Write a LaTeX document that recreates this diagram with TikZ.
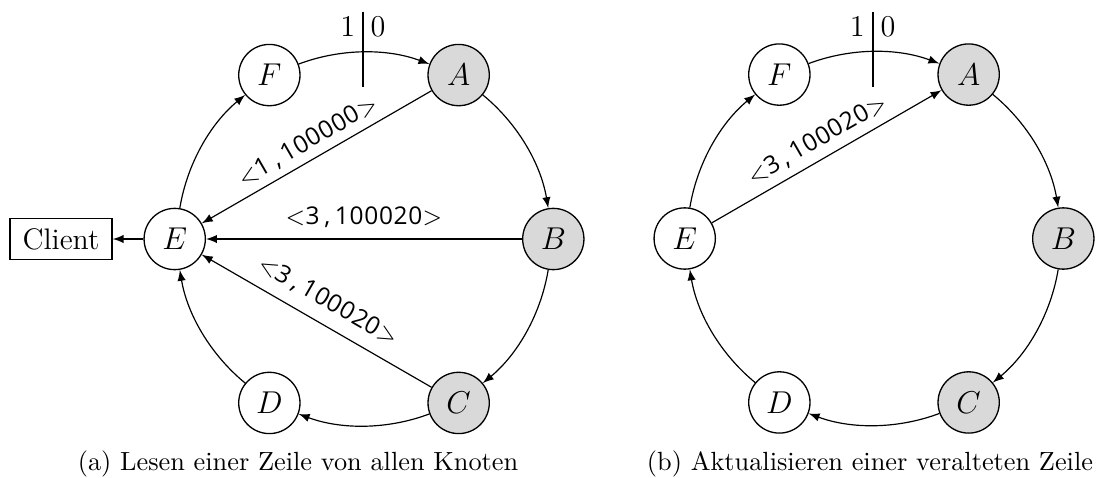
\RequirePackage{fix-cm}
\documentclass[tikz,border=0pt]{standalone}
\usepackage{fontspec}
\newfontfamily\lblfont{Open Sans}
\makeatletter
\def\monoit#1{\ifx#1\relax\else\makebox[0.6em]{#1}\expandafter\monoit\fi}
\makeatother
\newcommand\msgtext[1]{$<$\monoit #1\relax$>$}
\begin{document}
\begin{tikzpicture}[x=0.3802pt,y=0.3802pt,
  ring/.style={circle,draw,line width=0.5pt,minimum size=23.3pt,inner sep=0pt,font=\fontsize{12}{14}\selectfont},
  hot/.style={ring,fill=black!15},
  cyc/.style={-latex,line width=0.45pt,bend left=20.6,looseness=0.88},
  msg/.style={-latex,line width=0.45pt},
  lbl/.style={sloped,inner sep=2.5pt,font=\fontsize{9.3}{11}\selectfont\lblfont},
  captext/.style={anchor=base,font=\fontsize{10}{12}\selectfont},
  bit/.style={inner sep=0pt,font=\fontsize{11.5}{13}\selectfont},
  box/.style={draw,line width=0.5pt,minimum width=38.8pt,minimum height=15.8pt,inner sep=0pt,font=\fontsize{11.3}{13}\selectfont}
]
\useasboundingbox (0,0) rectangle (1099,-477);
% ---------- left diagram ----------
\node[hot]  (A) at (458.65,-75.06) {$A$};
\node[hot]  (B) at (553.3,-239) {$B$};
\node[hot]  (C) at (458.65,-402.94) {$C$};
\node[ring] (D) at (269.35,-402.94) {$D$};
\node[ring] (E) at (174.7,-239) {$E$};
\node[ring] (F) at (269.35,-75.06) {$F$};
\node[box]  (client) at (61,-239) {Client};
\draw[cyc] (F) to (A);
\draw[cyc] (A) to (B);
\draw[cyc] (B) to (C);
\draw[cyc] (C) to (D);
\draw[cyc] (D) to (E);
\draw[cyc] (E) to (F);
\draw[msg] (E) -- (client);
\draw[msg] (A) -- node[lbl,above=0pt] {\msgtext{1,100000}} (E);
\draw[msg] (B) -- node[lbl,above=1.5pt] {\msgtext{3,100020}} (E);
\draw[msg] (C) -- node[lbl,above=2pt] {\msgtext{3,100020}} (E);
\coordinate (t1a) at (363.3,-11.7);
\coordinate (t1b) at (363.3,-86.7);
\draw[line width=0.8pt] (t1a) -- (t1b);
\node[bit] (one1) at (347.7,-26.7) {1};
\node[bit] (zero1) at (378,-26.7) {0};
\node[captext] (capa) at (298,-470) {(a) Lesen einer Zeile von allen Knoten};
% ---------- right diagram ----------
\node[hot]  (A2) at (968.65,-74.56) {$A$};
\node[hot]  (B2) at (1063.3,-238.5) {$B$};
\node[hot]  (C2) at (968.65,-402.44) {$C$};
\node[ring] (D2) at (779.35,-402.44) {$D$};
\node[ring] (E2) at (684.7,-238.5) {$E$};
\node[ring] (F2) at (779.35,-74.56) {$F$};
\draw[cyc] (F2) to (A2);
\draw[cyc] (A2) to (B2);
\draw[cyc] (B2) to (C2);
\draw[cyc] (C2) to (D2);
\draw[cyc] (D2) to (E2);
\draw[cyc] (E2) to (F2);
\draw[msg] (E2) -- node[lbl,above=0.5pt] {\msgtext{3,100020}} (A2);
\coordinate (t2a) at (873.3,-11.7);
\coordinate (t2b) at (873.3,-86.7);
\draw[line width=0.8pt] (t2a) -- (t2b);
\node[bit] (one2) at (857.2,-26.7) {1};
\node[bit] (zero2) at (888,-26.7) {0};
\node[captext] (capb) at (870,-470) {(b) Aktualisieren einer veralteten Zeile};
\end{tikzpicture}
\end{document}
